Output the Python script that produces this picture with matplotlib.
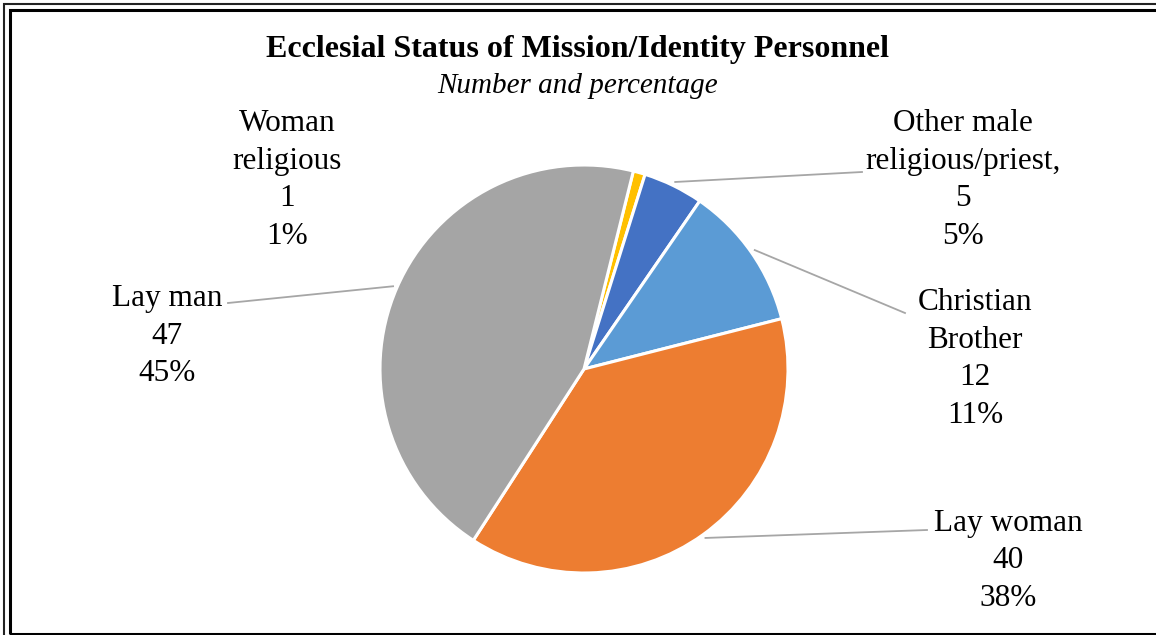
import matplotlib.pyplot as plt
from matplotlib.patches import Rectangle
import numpy as np

plt.rcParams['font.family'] = ['Liberation Serif', 'DejaVu Serif']

# data, in the order Excel draws the slices (clockwise)
categories = ['Woman\nreligious', 'Other male\nreligious/priest,', 'Christian\nBrother', 'Lay woman', 'Lay man']
counts = [1, 5, 12, 40, 47]
colors = ['#FFC000', '#4472C4', '#5B9BD5', '#ED7D31', '#A5A5A5']

W, H = 1156, 635
fig = plt.figure(figsize=(W / 100, H / 100), dpi=100)

# pie centre and radius in pixels
cx, cy, r = 584, 369, 204
ax = fig.add_axes([(cx - r) / W, (H - cy - r) / H, 2 * r / W, 2 * r / H])
wedges, _ = ax.pie(counts, colors=colors, startangle=76, counterclock=False,
                   radius=1, wedgeprops=dict(edgecolor='white', linewidth=2.2))
ax.set_xlim(-1, 1)
ax.set_ylim(-1, 1)
ax.set_aspect('equal')
ax.axis('off')


def px(x, y):
    # figure pixel (from top-left) -> pie data coords
    return (x - cx) / r, (cy - y) / r


total = sum(counts)
# label centre positions (pixels) and leader end points (None = no leader)
label_pos = [(287, 180), (963, 180), (975, 359), (1008, 561), (167, 336)]
leader_end = [None, (862, 172), (905, 313), (927, 530), (228, 303)]

for w, cat, n, pos, end in zip(wedges, categories, counts, label_pos, leader_end):
    pct = round(100 * n / total)
    tx, ty = px(*pos)
    ax.text(tx, ty, f"{cat}\n{n}\n{pct}%", ha='center', va='center',
            fontsize=22.5, linespacing=1.38, clip_on=False)
    if end is not None:
        ang = np.deg2rad((w.theta1 + w.theta2) / 2)
        sx, sy = 1.02 * np.cos(ang), 1.02 * np.sin(ang)
        ex, ey = px(*end)
        ax.plot([sx, ex], [sy, ey], color='#A6A6A6', lw=1.3, clip_on=False)

fig.text(0.5, 1 - 50 / H, 'Ecclesial Status of Mission/Identity Personnel',
         ha='center', va='center', fontsize=23, fontweight='bold')
fig.text(0.5, 1 - 86 / H, 'Number and percentage',
         ha='center', va='center', fontsize=21, style='italic')

# double frame around the chart
fig.add_artist(Rectangle((4 / W, -0.1), 1.2, (H - 4) / H + 0.1, transform=fig.transFigure,
                         fill=False, edgecolor='#222222', lw=1.5))
fig.add_artist(Rectangle((10 / W, 1 / H), 1.2, (H - 10 - 1) / H, transform=fig.transFigure,
                         fill=False, edgecolor='black', lw=2.2))

fig.savefig('out.png', dpi=100)
